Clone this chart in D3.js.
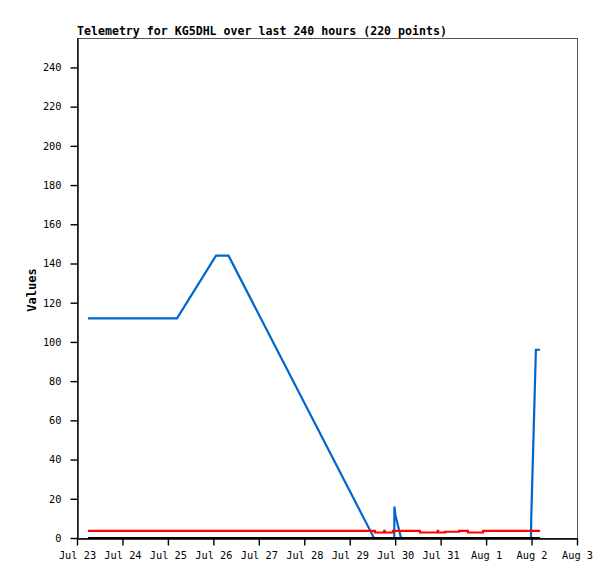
<!DOCTYPE html>
<html>
<head>
<meta charset="utf-8">
<script src="https://cdn.jsdelivr.net/npm/d3@7/dist/d3.min.js"></script>
<style>
  body { margin: 0; background: #fff; }
  text { font-family: "DejaVu Sans Mono", monospace; fill: #000; }
</style>
</head>
<body>
<div id="chart"></div>
<script>
// chart text
var chartTitle = 'Telemetry for KG5DHL over last 240 hours (220 points)';
var yLabel = 'Values';

// tick labels
var yTicks = [0, 20, 40, 60, 80, 100, 120, 140, 160, 180, 200, 220, 240];
var xTickDays = ['2023-07-23', '2023-07-24', '2023-07-25', '2023-07-26', '2023-07-27', '2023-07-28',
  '2023-07-29', '2023-07-30', '2023-07-31', '2023-08-01', '2023-08-02', '2023-08-03'];
var xTickLabels = ['Jul 23', 'Jul 24', 'Jul 25', 'Jul 26', 'Jul 27', 'Jul 28',
  'Jul 29', 'Jul 30', 'Jul 31', 'Aug 1', 'Aug 2', 'Aug 3'];

// blue series
var blueTimes = ['2023-07-23 05:48', '2023-07-25 04:48', '2023-07-26 01:24', '2023-07-26 08:00',
  '2023-07-29 12:48', '2023-07-29 23:30', '2023-07-29 23:36', '2023-07-30 00:10', '2023-07-30 03:05',
  '2023-08-01 23:42', '2023-08-01 23:50', '2023-08-02 02:18', '2023-08-02 04:30'];
var blueValues = [112, 112, 144, 144, 0, 0, 16, 11.5, 0, 0, 10, 96, 96];

// red series
var redTimes = ['2023-07-23 05:48', '2023-07-29 13:18', '2023-07-29 13:18', '2023-07-29 18:12',
  '2023-07-29 18:12', '2023-07-29 18:30', '2023-07-29 18:30', '2023-07-29 22:48', '2023-07-29 22:48',
  '2023-07-30 13:06', '2023-07-30 13:06', '2023-07-30 22:24', '2023-07-30 22:24', '2023-07-30 22:42',
  '2023-07-30 22:42', '2023-07-31 02:18', '2023-07-31 02:18', '2023-07-31 09:42', '2023-07-31 09:42',
  '2023-07-31 14:24', '2023-07-31 14:24', '2023-07-31 22:24', '2023-07-31 22:24', '2023-08-02 04:30'];
var redValues = [3.6, 3.6, 2.8, 2.8, 3.6, 3.6, 2.8, 2.8, 3.6, 3.6, 2.8, 2.8, 3.6, 3.6,
  2.8, 2.8, 3.2, 3.2, 3.6, 3.6, 2.8, 2.8, 3.6, 3.6];

// black series
var blackTimes = ['2023-07-23 05:48', '2023-08-02 04:30'];
var blackValues = [0, 0];

var width = 615;
var height = 579;
var margin = {top: 38, right: 38, bottom: 41, left: 77};

var parseTime = d3.timeParse('%Y-%m-%d %H:%M');
var parseDay = d3.timeParse('%Y-%m-%d');

var svg = d3.select('#chart').append('svg')
  .attr('width', width)
  .attr('height', height);

var x = d3.scaleTime()
  .domain([parseDay(xTickDays[0]), parseDay(xTickDays[xTickDays.length - 1])])
  .range([margin.left, width - margin.right]);

var y = d3.scaleLinear()
  .domain([0, 255])
  .range([height - margin.bottom, margin.top]);

// plot frame
svg.append('rect')
  .attr('x', margin.left + 0.5)
  .attr('y', margin.top + 0.5)
  .attr('width', width - margin.left - margin.right)
  .attr('height', height - margin.top - margin.bottom)
  .attr('fill', 'none')
  .attr('stroke', '#555')
  .attr('stroke-width', 1);

// build a series from its two arrays
var makeSeries = function(times, values) {
  return times.map(function(t, i) { return {t: parseTime(t), v: values[i]}; });
};

var line = d3.line()
  .x(function(d) { return x(d.t); })
  .y(function(d) { return y(d.v); });

var series = [
  {data: makeSeries(blueTimes, blueValues), color: '#0066cc'},
  {data: makeSeries(redTimes, redValues), color: '#ff0000'},
  {data: makeSeries(blackTimes, blackValues), color: '#000000'}
];

svg.selectAll('.series')
  .data(series)
  .enter()
  .append('path')
  .attr('class', 'series')
  .attr('d', function(d) { return line(d.data); })
  .attr('fill', 'none')
  .attr('stroke', function(d) { return d.color; })
  .attr('stroke-width', 2.2)
  .attr('stroke-linejoin', 'miter');

// x axis
var xAxis = d3.axisBottom(x)
  .tickValues(xTickDays.map(function(d) { return parseDay(d); }))
  .tickFormat(function(d, i) { return xTickLabels[i]; })
  .tickSize(7)
  .tickSizeOuter(0)
  .tickPadding(6);

var gx = svg.append('g')
  .attr('transform', 'translate(0,' + (height - margin.bottom + 0.5) + ')')
  .call(xAxis);
gx.selectAll('text').style('font-size', '10.3px');
gx.selectAll('line, path').attr('stroke', '#000').attr('stroke-width', 1.4);

// y axis
var yAxis = d3.axisLeft(y)
  .tickValues(yTicks)
  .tickSize(7)
  .tickSizeOuter(0)
  .tickPadding(9);

var gy = svg.append('g')
  .attr('transform', 'translate(' + (margin.left + 0.5) + ',0)')
  .call(yAxis);
gy.selectAll('text').style('font-size', '10.3px');
gy.selectAll('line, path').attr('stroke', '#000').attr('stroke-width', 1.4);

// title and y label
svg.append('text')
  .attr('x', margin.left)
  .attr('y', 35)
  .style('font-size', '11.6px')
  .style('font-weight', 'bold')
  .text(chartTitle);

svg.append('text')
  .attr('transform', 'translate(36,290) rotate(-90)')
  .attr('text-anchor', 'middle')
  .style('font-size', '12px')
  .style('font-weight', 'bold')
  .text(yLabel);
</script>
</body>
</html>
